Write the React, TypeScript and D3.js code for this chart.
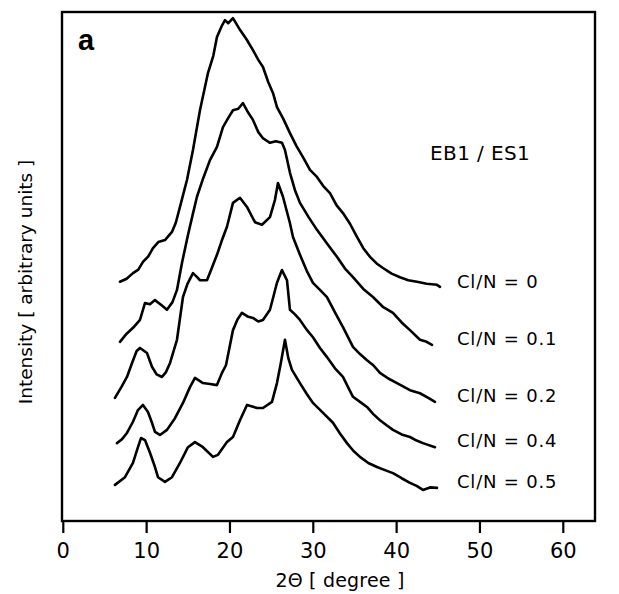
import React from 'react';
import * as d3 from 'd3';

// diffraction traces: [2theta, intensity (arb.)]
const cn0: [number, number][] = [
  [6.8, 47.0], [7.6, 47.6], [8.36, 48.7], [9.0, 49.4], [9.56, 50.9], [10.2, 52.0],
  [10.76, 53.6], [11.4, 54.8], [12.2, 55.2], [13.04, 56.8], [13.5, 58.6], [14.0, 61.7],
  [14.84, 67.0], [15.56, 72.9], [16.4, 80.7], [17.36, 88.0], [18.0, 91.4], [18.44, 95.1],
  [19.0, 97.2], [19.4, 98.4], [19.8, 97.8], [20.36, 98.8], [21.2, 96.5], [22.0, 94.6],
  [22.76, 92.5], [23.4, 90.6], [23.96, 89.2], [24.6, 86.2], [25.16, 84.1], [25.64, 81.3],
  [26.4, 79.0], [27.2, 76.2], [28.0, 73.6], [28.76, 71.5], [29.6, 69.0], [30.44, 67.6],
  [31.2, 65.8], [32.0, 64.4], [32.8, 62.0], [33.56, 60.5], [34.4, 58.4], [35.24, 55.8],
  [36.0, 53.6], [36.8, 51.9], [37.6, 50.6], [38.36, 49.7], [39.4, 48.6], [40.4, 47.9],
  [41.4, 47.3], [42.44, 47.0], [43.6, 46.6], [44.84, 46.4], [45.2, 46.0],
];

const cn01: [number, number][] = [
  [6.8, 35.2], [7.6, 36.8], [8.4, 38.0], [9.2, 39.5], [9.8, 42.8], [10.4, 42.6],
  [11.0, 43.4], [11.8, 42.4], [12.44, 41.5], [13.1, 43.0], [13.64, 45.4], [14.24, 50.7],
  [14.96, 56.2], [15.5, 60.0], [16.04, 63.7], [16.8, 67.4], [17.6, 70.9], [18.44, 73.5],
  [19.16, 77.4], [19.8, 79.2], [20.36, 80.7], [21.0, 81.0], [21.56, 82.1], [22.2, 80.2],
  [22.76, 78.8], [23.4, 76.4], [23.96, 75.2], [24.8, 74.3], [25.5, 74.6], [26.24, 74.3],
  [26.6, 72.9], [27.2, 68.4], [27.8, 65.0], [28.4, 62.5], [29.4, 59.8], [30.44, 57.2],
  [31.6, 54.6], [32.84, 51.9], [33.8, 49.6], [34.76, 47.9], [36.0, 45.6], [37.16, 44.0],
  [38.4, 42.0], [39.56, 40.9], [40.6, 39.0], [41.6, 37.5], [42.8, 35.6], [43.6, 35.2],
  [44.24, 34.6],
];

const cn02: [number, number][] = [
  [6.2, 24.2], [7.0, 26.4], [7.64, 28.3], [8.24, 31.0], [8.8, 33.4], [9.2, 34.0],
  [10.04, 33.0], [10.64, 30.3], [11.2, 28.8], [11.84, 28.3], [12.3, 29.2], [12.8, 31.0],
  [13.64, 35.6], [14.36, 44.0], [14.9, 46.6], [15.56, 48.7], [16.0, 48.0], [16.4, 47.3],
  [17.24, 47.3], [17.8, 49.6], [18.44, 52.3], [19.0, 55.0], [19.64, 57.8], [20.36, 62.5],
  [21.2, 63.5], [22.04, 61.7], [23.0, 58.7], [23.84, 58.2], [24.8, 59.7], [25.4, 63.1],
  [25.76, 66.4], [26.36, 63.7], [27.2, 58.5], [27.56, 55.8], [28.4, 52.3], [29.2, 49.2],
  [29.96, 46.8], [30.8, 45.4], [31.64, 44.0], [32.6, 41.0], [33.56, 38.1], [34.76, 34.2],
  [35.6, 32.8], [36.44, 31.6], [37.2, 30.6], [38.0, 29.1], [39.0, 28.0], [40.04, 27.1],
  [41.6, 25.7], [42.8, 25.1], [43.8, 24.2], [44.6, 23.4],
];

const cn04: [number, number][] = [
  [6.44, 15.3], [7.0, 16.0], [7.64, 17.3], [8.36, 19.5], [8.96, 21.8], [9.56, 22.8],
  [10.16, 21.4], [10.64, 19.3], [11.0, 17.5], [11.6, 16.9], [12.44, 17.9], [13.4, 20.2],
  [14.36, 23.2], [15.2, 26.3], [15.8, 28.1], [16.76, 27.1], [17.6, 26.9], [18.44, 26.7],
  [19.04, 29.1], [19.52, 30.6], [20.36, 37.5], [20.9, 39.6], [21.44, 40.9], [22.1, 40.2],
  [22.76, 39.9], [23.4, 39.2], [23.96, 39.5], [24.8, 41.5], [25.2, 44.0], [25.64, 46.8],
  [26.24, 49.3], [26.84, 47.3], [27.2, 41.5], [27.8, 40.6], [28.4, 39.5], [29.2, 37.6],
  [29.96, 36.1], [30.8, 34.0], [31.64, 32.2], [32.6, 30.0], [33.56, 28.3], [34.2, 26.2],
  [34.76, 24.4], [35.6, 23.4], [36.44, 22.4], [37.2, 21.0], [38.0, 19.8], [38.8, 18.8],
  [39.56, 17.9], [40.6, 17.0], [41.6, 16.5], [42.4, 15.8], [43.16, 15.3], [44.6, 14.5],
];

const cn05: [number, number][] = [
  [6.2, 7.1], [7.4, 8.6], [8.36, 11.4], [8.96, 14.5], [9.32, 16.3], [9.8, 15.9],
  [10.4, 13.4], [11.0, 10.6], [11.36, 8.6], [12.2, 7.7], [13.04, 8.6], [14.0, 11.4],
  [14.96, 14.5], [15.8, 15.5], [16.76, 14.5], [17.96, 12.6], [18.56, 13.0], [19.64, 15.5],
  [20.36, 16.5], [21.2, 19.8], [22.04, 22.8], [23.24, 22.2], [23.96, 22.2], [25.04, 23.4],
  [25.64, 27.1], [26.1, 31.0], [26.6, 35.6], [27.0, 32.0], [27.44, 29.7], [28.4, 27.1],
  [29.2, 25.0], [29.96, 23.2], [31.2, 21.2], [32.36, 19.3], [33.2, 17.2], [34.04, 15.3],
  [34.8, 13.8], [35.6, 12.6], [36.6, 11.4], [37.64, 10.6], [38.6, 10.0], [39.56, 9.4],
  [40.6, 8.4], [41.6, 7.5], [42.4, 6.9], [43.16, 6.1], [44.0, 6.6], [44.84, 6.5],
];

const series = [cn0, cn01, cn02, cn04, cn05];
const labels = ['Cl/N = 0', 'Cl/N = 0.1', 'Cl/N = 0.2', 'Cl/N = 0.4', 'Cl/N = 0.5'];
const labelY = [45.8, 34.6, 23.4, 14.5, 6.5];
const xTicks = [0, 10, 20, 30, 40, 50, 60];

const font = "'DejaVu Sans', 'Liberation Sans', sans-serif";

export default function App() {
  const width = 619;
  const height = 594;
  const left = 62, right = 595, top = 12, bottom = 521;

  const x = d3.scaleLinear().domain([0, 60]).range([63.3, 563.3]);
  const y = d3.scaleLinear().domain([0, 100]).range([bottom, top]);

  const line = d3.line<[number, number]>()
    .x(d => x(d[0]))
    .y(d => y(d[1]));

  return (
    <svg width={width} height={height} style={{ position: 'absolute', left: 0, top: 0 }}
      fontFamily={font}>
      <rect x={0} y={0} width={width} height={height} fill="#fff" />

      {/* frame */}
      <rect x={left} y={top} width={right - left} height={bottom - top}
        fill="none" stroke="#000" strokeWidth={2.4} />

      {/* traces */}
      {series.map((s, i) => (
        <path key={i} d={line(s) || ''} fill="none" stroke="#000" strokeWidth={2.6}
          strokeLinejoin="round" strokeLinecap="round" />
      ))}

      {/* bottom ticks */}
      {xTicks.map(t => (
        <g key={t} transform={`translate(${x(t)},${bottom})`}>
          <line y1={0} y2={12} stroke="#000" strokeWidth={2.2} />
          <text y={37} textAnchor="middle" fontSize={21}>{t}</text>
        </g>
      ))}

      <text x={340} y={587} textAnchor="middle" fontSize={19} letterSpacing={0.2}>2Θ [ degree ]</text>
      <text transform={`translate(32,282) rotate(-90)`} textAnchor="middle" fontSize={18.5}>
        Intensity [ arbitrary units ]
      </text>

      <text x={78} y={50} fontSize={29} fontWeight="bold" fontFamily="'Liberation Sans', Arial, sans-serif">a</text>
      <text x={430} y={160} fontSize={20} letterSpacing={0.4}>EB1 / ES1</text>

      {labels.map((l, i) => (
        <text key={l} x={457} y={y(labelY[i])} fontSize={18} letterSpacing={0.8}>{l}</text>
      ))}
    </svg>
  );
}
